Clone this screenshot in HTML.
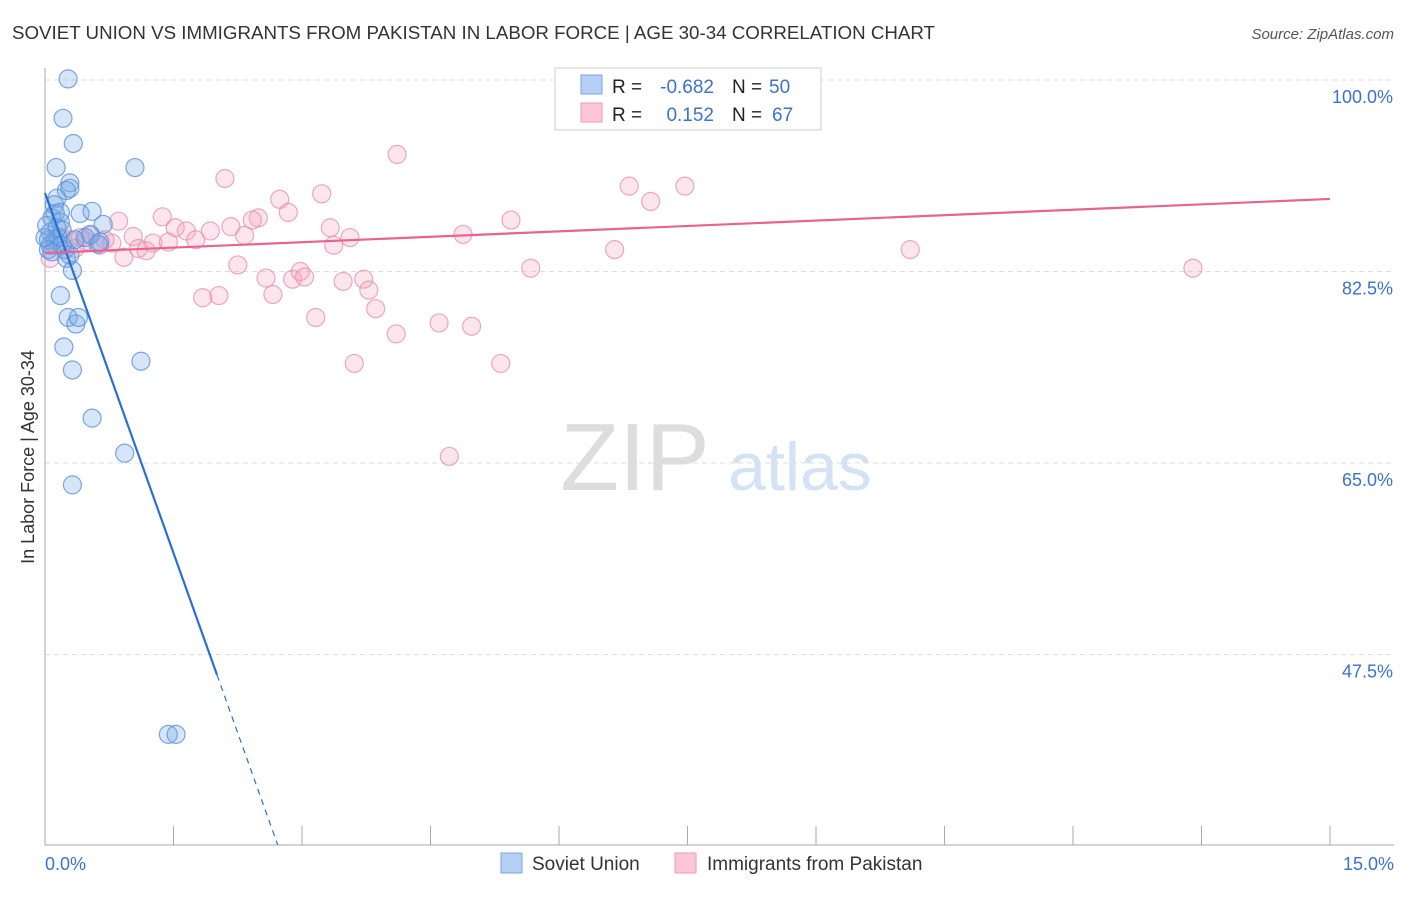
<!DOCTYPE html>
<html><head><meta charset="utf-8"><style>
body{margin:0;background:#fff;font-family:"Liberation Sans",sans-serif;}
svg text{font-family:"Liberation Sans",sans-serif;}
</style></head><body>
<svg id="chart" width="1406" height="892" viewBox="0 0 1406 892">
<text x="12" y="39" font-size="18" fill="#333" textLength="923" lengthAdjust="spacingAndGlyphs">SOVIET UNION VS IMMIGRANTS FROM PAKISTAN IN LABOR FORCE | AGE 30-34 CORRELATION CHART</text>
<text x="1394" y="39" font-size="15" fill="#555" text-anchor="end" font-style="italic">Source: ZipAtlas.com</text>
<g>
<text x="635" y="490" font-size="96" fill="#ddd" text-anchor="middle" font-family="Liberation Serif,serif">ZIP</text>
<text x="800" y="490" font-size="68" fill="#d3e2f5" text-anchor="middle">atlas</text>
</g>
<g id="grid"></g>
<g id="axes"></g>
<g id="points"></g>
<g id="trends"></g>
<text transform="translate(34,457) rotate(-90)" font-size="18" fill="#333" text-anchor="middle">In Labor Force | Age 30-34</text>
<g>
<rect x="555" y="68" width="266" height="62" fill="#fff" stroke="#ccc"/>
<rect x="581" y="75" width="21" height="19" fill="#b6d0f3" stroke="#7aa6e6"/>
<rect x="581" y="103" width="21" height="19" fill="#fcc6d6" stroke="#ee9ab5"/>
<text x="612" y="93" font-size="19" fill="#222">R =</text>
<text x="714" y="93" font-size="19" fill="#3a72d0" text-anchor="end">-0.682</text>
<text x="732" y="93" font-size="19" fill="#222">N =</text>
<text x="769" y="93" font-size="19" fill="#3a72d0">50</text>
<text x="612" y="121" font-size="19" fill="#222">R =</text>
<text x="714" y="121" font-size="19" fill="#3a72d0" text-anchor="end">0.152</text>
<text x="732" y="121" font-size="19" fill="#222">N =</text>
<text x="772" y="121" font-size="19" fill="#3a72d0">67</text>
</g>
<g>
<rect x="501" y="853" width="21" height="20" fill="#b6d0f3" stroke="#7aa6e6"/>
<text x="532" y="870" font-size="19" fill="#333">Soviet Union</text>
<rect x="675" y="853" width="21" height="20" fill="#fcc6d6" stroke="#ee9ab5"/>
<text x="707" y="870" font-size="19" fill="#333">Immigrants from Pakistan</text>
</g>
</svg>
<script>
const xTicks=[0,1.5,3,4.5,6,7.5,9,10.5,12,13.5,15];
const yTicks=[100,82.5,65,47.5];
const yTickLabels=["100.0%","82.5%","65.0%","47.5%"];
const sovietX=[0.27,0.21,0.33,0.13,1.05,0.29,0.25,0.29,0.14,0.12,0.41,0.55,0.68,0.08,0.18,0.06,0.20,0.04,0.12,0.53,0.62,0.25,0.32,0.18,0.27,0.36,0.39,0.22,0.32,0.55,0.93,0.32,1.12,1.44,1.53,0.06,0.02,0.15,0.23,0.11,0.20,0.04,0.47,0.64,0.14,0.08,0.29,0.0,0.18,0.35];
const sovietY=[100.1,96.5,94.2,92.0,92.0,90.6,89.9,90.1,89.2,87.8,87.8,88.0,86.8,87.4,87.0,86.1,86.3,85.4,85.4,85.9,85.0,83.7,82.6,80.3,78.3,77.7,78.3,75.6,73.5,69.1,65.9,63.0,74.3,40.2,40.2,84.9,86.7,85.6,84.5,88.6,84.9,84.5,85.6,85.2,86.5,84.3,84.0,85.6,87.9,85.4];
const pakX=[6.21,6.71,7.0,7.3,4.11,2.10,6.82,7.47,2.74,3.23,7.07,2.84,1.37,0.86,2.49,2.42,5.44,2.17,1.52,1.65,1.93,3.33,4.88,2.33,1.03,1.76,3.56,0.47,0.64,0.78,1.26,1.44,1.09,1.18,3.37,0.29,0.41,0.92,6.65,10.10,13.40,2.25,5.67,2.58,2.89,2.98,3.03,3.48,3.72,3.78,2.03,1.84,2.66,3.86,3.16,4.60,4.98,4.10,3.61,5.32,4.72,0.06,0.12,0.53,0.18,0.35,0.70];
const pakY=[100.1,100.1,100.1,100.1,93.2,91.0,90.3,90.3,89.1,89.6,88.9,87.9,87.5,87.1,87.4,87.2,87.2,86.6,86.5,86.2,86.2,86.5,85.9,85.8,85.7,85.4,85.6,85.3,84.9,85.1,85.1,85.2,84.6,84.4,84.9,85.4,85.6,83.8,84.5,84.5,82.8,83.1,82.8,81.9,81.8,82.5,82.0,81.6,81.8,80.8,80.3,80.1,80.4,79.1,78.3,77.8,77.5,76.8,74.1,74.1,65.6,83.7,84.9,85.8,85.6,84.6,85.4];
const sovietTrend=[89.67,-21.93,2.008];
const pakTrend=[84.19,89.13];

const X=v=>45+v/15*1285;
const Y=v=>80+(100-v)*10.943;
const NS="http://www.w3.org/2000/svg";
function mk(tag,attrs,parent){const e=document.createElementNS(NS,tag);for(const k in attrs)e.setAttribute(k,attrs[k]);parent.appendChild(e);return e;}
const grid=document.getElementById('grid'),axes=document.getElementById('axes'),pts=document.getElementById('points'),tr=document.getElementById('trends');
yTicks.forEach((t,i)=>{
  const l=mk('line',{x1:45,x2:1394,y1:Y(t),y2:Y(t),stroke:'#ddd','stroke-dasharray':'5,4'},grid);
  
  
  const tx=mk('text',{x:1393,y:Y(t)+23,'font-size':18,fill:'#3a72d0','text-anchor':'end'},axes);
  tx.textContent=yTickLabels[i];
  
  
});
const ya=mk('line',{x1:45,x2:45,y1:68,y2:845,stroke:'#aaa'},axes);


const xa=mk('line',{x1:45,x2:1394,y1:845,y2:845,stroke:'#aaa'},axes);


xTicks.forEach(t=>{
  const l=mk('line',{x1:X(t),x2:X(t),y1:826,y2:845,stroke:'#aaa'},axes);
  
  
});
const x0=mk('text',{x:45,y:870,'font-size':18,fill:'#3a72d0'},axes);x0.textContent='0.0%';


const x1=mk('text',{x:1394,y:870,'font-size':18,fill:'#3a72d0','text-anchor':'end'},axes);x1.textContent='15.0%';


pakX.forEach((v,i)=>{
  const c=mk('circle',{cx:X(v),cy:Y(pakY[i]),r:9,fill:'rgba(244,160,186,0.28)',stroke:'rgba(232,140,170,0.75)','stroke-width':1.2},pts);
  
  
});
sovietX.forEach((v,i)=>{
  const c=mk('circle',{cx:X(v),cy:Y(sovietY[i]),r:9,fill:'rgba(120,168,232,0.3)',stroke:'rgba(90,145,220,0.8)','stroke-width':1.2},pts);
  
  
});
const sy=x=>sovietTrend[0]+sovietTrend[1]*x;
const xEnd=(30.1-sovietTrend[0])/sovietTrend[1];
const s1=mk('line',{x1:X(0),y1:Y(sy(0)),x2:X(sovietTrend[2]),y2:Y(sy(sovietTrend[2])),stroke:'#2a6fd6','stroke-width':2.2},tr);


const s2=mk('line',{x1:X(sovietTrend[2]),y1:Y(sy(sovietTrend[2])),x2:X(xEnd),y2:Y(30.1),stroke:'#2a6fd6','stroke-width':1.2,'stroke-dasharray':'6,5'},tr);


const p1=mk('line',{x1:X(0),y1:Y(pakTrend[0]),x2:X(15),y2:Y(pakTrend[1]),stroke:'#e8638f','stroke-width':2.2},tr);


</script>
</body></html>
